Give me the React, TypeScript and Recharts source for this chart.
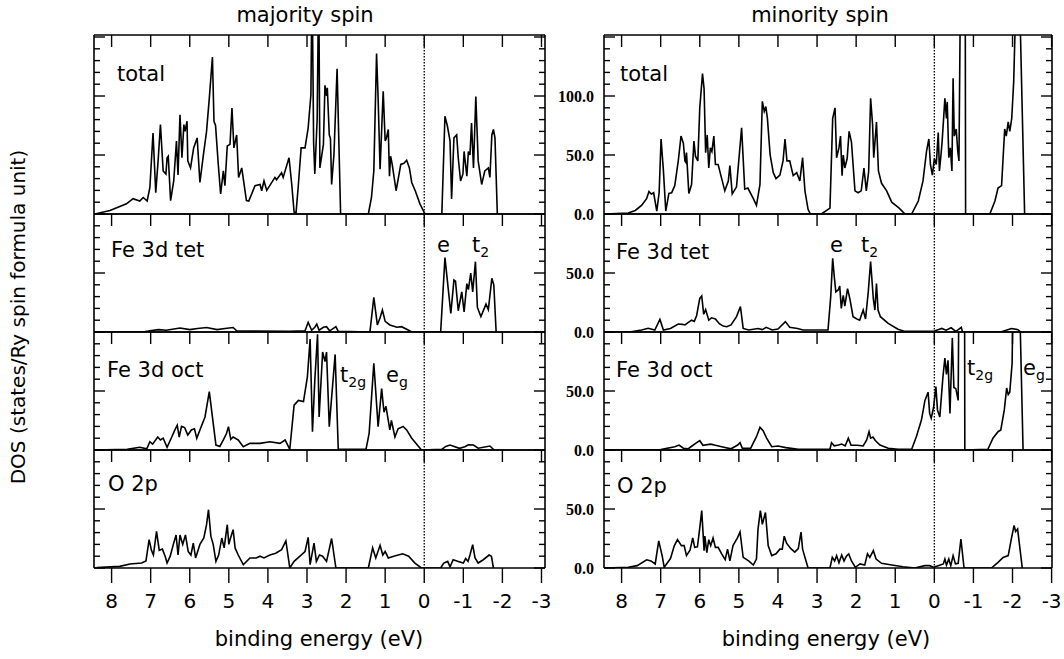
import React from "react";
import { LineChart, Line, XAxis, YAxis, ReferenceLine } from "recharts";

type Pt = [number, number];

// binding energy ticks (eV) and DOS ticks (states/Ry spin formula unit)
const energyTicks = [8, 7, 6, 5, 4, 3, 2, 1, 0, -1, -2, -3];
const dosTicksTotal = [0, 10, 20, 30, 40, 50, 60, 70, 80, 90, 100, 110, 120, 130, 140, 150];
const dosTicksPartial = [0, 10, 20, 30, 40, 50, 60, 70, 80, 90, 100];

const panelNames = ["total", "Fe 3d tet", "Fe 3d oct", "O 2p"];
const columnTitles = ["majority spin", "minority spin"];

// majority spin
const majTotal: Pt[] = [
  [8.43, 0], [8.04, 3], [7.62, 8.6], [7.45, 13], [7.28, 11], [7.19, 14], [7.09, 11], [7.02, 22.5],
  [6.94, 68.7], [6.87, 18], [6.81, 45], [6.75, 75.8], [6.68, 36.5], [6.61, 33.8], [6.58, 47.7],
  [6.55, 49], [6.49, 11.3], [6.41, 28], [6.34, 61.8], [6.3, 33], [6.25, 84], [6.2, 47.7], [6.15, 75.8],
  [6.12, 70], [6.07, 78.6], [6.05, 45], [5.98, 39], [5.9, 56], [5.81, 64.5], [5.74, 26.7], [5.66, 47.7],
  [5.57, 70], [5.5, 98], [5.42, 133], [5.38, 78.6], [5.34, 75], [5.27, 42], [5.21, 17], [5.14, 36.5],
  [5.1, 24], [5.04, 57.6], [4.97, 59], [4.92, 89.7], [4.87, 56], [4.8, 67], [4.75, 31], [4.67, 39],
  [4.55, 11.3], [4.49, 11], [4.33, 24], [4.2, 25], [4.16, 19.7], [4.1, 28], [4.03, 20], [3.82, 31],
  [3.78, 29], [3.65, 35], [3.61, 31], [3.46, 47.7], [3.39, 25], [3.33, 1.5], [3.28, 1], [3.22, 25],
  [3.15, 56], [3.05, 56], [2.97, 73], [2.9, 101], [2.87, 200], [2.83, 60], [2.8, 34], [2.74, 80],
  [2.7, 200], [2.67, 39], [2.58, 59], [2.54, 109], [2.5, 100], [2.48, 107], [2.43, 67], [2.4, 64],
  [2.37, 25], [2.31, 50.6], [2.23, 123], [2.14, 0], [1.43, 0], [1.35, 14], [1.29, 36.5], [1.22, 136],
  [1.18, 98], [1.13, 38], [1.05, 104], [1.0, 62], [0.97, 64], [0.92, 71.6], [0.89, 32], [0.86, 49],
  [0.82, 42], [0.72, 19.7], [0.6, 42], [0.52, 43], [0.45, 45.5], [0.38, 39], [0.32, 26.7], [0.23, 19.7],
  [0.11, 8.6], [-0.02, 0], [-0.45, 0], [-0.53, 82.8], [-0.59, 75], [-0.66, 62], [-0.7, 12.8],
  [-0.76, 64.5], [-0.83, 67], [-0.87, 47.7], [-0.93, 28], [-0.99, 34], [-1.02, 53], [-1.09, 32],
  [-1.13, 53], [-1.17, 50], [-1.21, 77], [-1.26, 39], [-1.32, 99.6], [-1.38, 45], [-1.47, 25],
  [-1.55, 36.5], [-1.64, 39], [-1.68, 31], [-1.73, 67], [-1.77, 71.6], [-1.81, 64.5], [-1.87, 0],
];

const majTet: Pt[] = [
  [8.43, 0], [7.2, 0], [7.02, 1], [6.8, 2], [6.6, 1.5], [6.25, 3.4], [6.0, 2], [5.8, 3], [5.57, 3.8],
  [5.3, 2], [5.1, 3], [4.89, 3.8], [4.8, 1], [4.5, 0.8], [3.44, 0.5], [3.05, 1], [2.97, 8.2],
  [2.88, 1.5], [2.8, 4], [2.75, 6.8], [2.69, 1.5], [2.58, 4], [2.5, 4.5], [2.42, 1], [2.26, 4.5],
  [2.2, 0.5], [1.39, 0], [1.29, 29.4], [1.2, 6], [1.13, 12], [1.07, 18.6], [1.0, 9], [0.88, 6],
  [0.7, 4], [0.58, 4.5], [0.4, 1.5], [0.32, 0], [-0.42, 0], [-0.53, 63], [-0.68, 15.8], [-0.76, 44],
  [-0.8, 43], [-0.87, 18], [-0.96, 34], [-1.02, 17], [-1.09, 41], [-1.13, 36], [-1.19, 50],
  [-1.24, 34], [-1.31, 59.6], [-1.36, 21], [-1.45, 13], [-1.58, 23.6], [-1.64, 19], [-1.73, 45.5],
  [-1.78, 40], [-1.84, 0],
];

const majOct: Pt[] = [
  [8.43, 0], [7.6, 0.5], [7.28, 2.3], [7.1, 1], [7.02, 7], [6.95, 5], [6.82, 11], [6.75, 8.5],
  [6.68, 10], [6.58, 2.3], [6.46, 11], [6.38, 17], [6.32, 21], [6.27, 11], [6.21, 20], [6.13, 19],
  [6.05, 12.7], [5.96, 17], [5.88, 18], [5.82, 9.9], [5.74, 17], [5.61, 28], [5.5, 49.4], [5.42, 28],
  [5.33, 4.2], [5.23, 3], [5.14, 8.5], [5.06, 14], [5.01, 19.8], [4.95, 9], [4.89, 11], [4.76, 8.5],
  [4.63, 2.8], [4.46, 5.6], [4.2, 5.6], [3.95, 7], [3.69, 5.6], [3.56, 8.5], [3.44, 0.5], [3.33, 38],
  [3.22, 42], [3.09, 41], [2.99, 62], [2.92, 94], [2.86, 15.5], [2.8, 59], [2.73, 98], [2.69, 28],
  [2.6, 83], [2.54, 75], [2.5, 83], [2.43, 19.8], [2.28, 81], [2.2, 0.5], [1.49, 0.5], [1.41, 14],
  [1.29, 73.5], [1.18, 19.8], [1.09, 52], [1.03, 32], [0.98, 37], [0.88, 17], [0.84, 25], [0.75, 11],
  [0.67, 18], [0.54, 20], [0.45, 17], [0.32, 10], [0.07, 0], [-0.45, 0.5], [-0.55, 3], [-0.66, 4.2],
  [-0.9, 1.4], [-1.04, 2.8], [-1.13, 4.5], [-1.26, 4.2], [-1.38, 1.5], [-1.68, 3.4], [-1.79, 0],
];

const majO2p: Pt[] = [
  [8.38, 0.3], [7.79, 1.4], [7.53, 3.4], [7.23, 4.2], [7.12, 6], [7.04, 24], [6.98, 15], [6.93, 11],
  [6.85, 31], [6.78, 15], [6.7, 16], [6.63, 10], [6.58, 4.2], [6.5, 10], [6.42, 20], [6.35, 28],
  [6.3, 11], [6.25, 28], [6.18, 20], [6.11, 28], [6.04, 14], [5.97, 11], [5.91, 21], [5.85, 8.5],
  [5.74, 20], [5.64, 25.4], [5.57, 36.7], [5.52, 49.4], [5.46, 27], [5.4, 20], [5.33, 5.6], [5.26, 11],
  [5.18, 25.4], [5.12, 17], [5.04, 36.7], [5.0, 20], [4.96, 25], [4.89, 32.5], [4.84, 17], [4.76, 11],
  [4.63, 2.8], [4.46, 8.5], [4.3, 8.5], [4.2, 10], [4.1, 8.5], [3.95, 11], [3.8, 12.5], [3.65, 15.5],
  [3.54, 23], [3.44, 0], [3.33, 5.6], [3.18, 10], [3.05, 14], [2.97, 26], [2.92, 2.8], [2.82, 21],
  [2.76, 5.6], [2.68, 11], [2.6, 10], [2.5, 5.6], [2.37, 25], [2.26, 0], [1.43, 0], [1.32, 17],
  [1.24, 8.5], [1.13, 19.2], [1.06, 11], [1.0, 14], [0.92, 8.5], [0.78, 10], [0.55, 12], [0.4, 10],
  [0.24, 4.2], [0.07, 0], [-0.42, 0], [-0.5, 4.2], [-0.6, 5.6], [-0.66, 1], [-0.74, 7], [-0.87, 5.6],
  [-1.0, 4.2], [-1.06, 8], [-1.12, 5.6], [-1.17, 11], [-1.24, 19.8], [-1.3, 8.5], [-1.38, 4.2],
  [-1.51, 7], [-1.66, 11], [-1.72, 9.9], [-1.77, 0],
];

// minority spin
const minTotal: Pt[] = [
  [8.43, 0], [7.83, 0.8], [7.65, 3], [7.49, 7.3], [7.36, 13], [7.3, 19], [7.24, 17], [7.18, 18],
  [7.1, 2.5], [7.04, 18], [6.99, 63.6], [6.93, 36.5], [6.87, 2.5], [6.79, 17.4], [6.72, 18],
  [6.64, 24], [6.55, 45], [6.48, 66], [6.42, 60], [6.38, 45], [6.36, 44], [6.34, 52], [6.28, 17.4],
  [6.21, 25], [6.15, 61.8], [6.11, 49], [6.05, 45], [6.0, 90], [5.93, 119], [5.89, 106], [5.85, 52],
  [5.81, 67], [5.77, 39], [5.73, 56], [5.69, 53], [5.64, 66], [5.6, 42], [5.53, 42], [5.49, 36.5],
  [5.36, 19.6], [5.27, 28], [5.23, 41], [5.17, 17], [5.06, 23], [4.93, 73], [4.85, 21], [4.77, 22],
  [4.63, 13], [4.55, 7.3], [4.46, 25], [4.4, 95.5], [4.35, 87], [4.31, 91], [4.27, 81], [4.2, 50],
  [4.12, 35], [4.05, 30], [3.95, 33], [3.87, 45], [3.82, 63.6], [3.77, 45], [3.7, 45], [3.61, 32.5],
  [3.52, 35], [3.44, 28], [3.37, 47.7], [3.31, 19.6], [3.23, 4], [3.17, 0], [2.89, 0], [2.67, 5],
  [2.6, 81], [2.54, 90], [2.5, 47.7], [2.44, 56], [2.4, 66], [2.36, 32.5], [2.33, 50], [2.29, 39],
  [2.23, 47], [2.18, 70], [2.12, 61], [2.03, 19.6], [1.95, 18], [1.87, 19.6], [1.8, 39], [1.74, 19.6],
  [1.68, 36], [1.63, 98], [1.58, 76], [1.55, 47.7], [1.48, 78], [1.43, 36.5], [1.35, 26], [1.22, 19.6],
  [1.09, 10], [0.9, 5], [0.75, 0], [0.58, 0], [0.41, 11], [0.29, 28], [0.2, 53], [0.14, 63.6],
  [0.1, 42], [0.05, 33], [0.0, 47], [-0.05, 42], [-0.1, 69], [-0.13, 36.5], [-0.17, 50], [-0.2, 61.8],
  [-0.27, 98], [-0.31, 81], [-0.33, 95], [-0.37, 47.7], [-0.41, 56], [-0.45, 36.5], [-0.48, 115],
  [-0.51, 66], [-0.56, 72], [-0.6, 53], [-0.63, 45], [-0.67, 200], [-0.79, 200], [-0.8, 0],
  [-1.42, 0], [-1.55, 11], [-1.63, 22], [-1.72, 24], [-1.8, 72], [-1.84, 66], [-1.89, 78],
  [-1.93, 70], [-1.98, 81], [-2.03, 112], [-2.1, 200], [-2.17, 200], [-2.31, 0],
];

const minTet: Pt[] = [
  [8.42, 0], [7.8, 0], [7.49, 1.7], [7.32, 3.1], [7.15, 1.7], [7.02, 10.7], [6.93, 1.7], [6.75, 3],
  [6.55, 6.8], [6.45, 6.5], [6.38, 6], [6.3, 8], [6.21, 10], [6.14, 9], [6.08, 14], [6.0, 28.5],
  [5.95, 30.5], [5.9, 15], [5.85, 19], [5.77, 10], [5.7, 12], [5.6, 11], [5.5, 7], [5.4, 5],
  [5.31, 4.5], [5.2, 6], [5.06, 13], [4.96, 21.5], [4.89, 3], [4.75, 1.7], [4.51, 3], [4.4, 2],
  [4.3, 4], [4.15, 1.7], [4.0, 2.5], [3.81, 8.8], [3.7, 4], [3.5, 3], [3.36, 1.7], [2.72, 1.7],
  [2.65, 30], [2.6, 62.4], [2.56, 47], [2.52, 34], [2.46, 35.6], [2.42, 39], [2.38, 20], [2.33, 31],
  [2.29, 22], [2.22, 36.7], [2.16, 28], [2.08, 13], [1.98, 11], [1.91, 10], [1.82, 18.6], [1.76, 11],
  [1.69, 34], [1.63, 59.6], [1.56, 28], [1.52, 18.6], [1.48, 41], [1.44, 18.6], [1.38, 13],
  [1.18, 7.3], [0.93, 2.3], [0.75, 0.5], [0.03, 0.5], [-0.19, 3], [-0.3, 1.5], [-0.43, 3.6],
  [-0.55, 0.5], [-0.69, 4], [-0.72, 0], [-1.7, 0], [-1.97, 3], [-2.14, 2], [-2.21, 0],
];

const minOct: Pt[] = [
  [8.42, 0], [7.0, 0.3], [6.64, 2.8], [6.53, 4.2], [6.42, 1.5], [6.3, 1], [6.2, 3.4], [6.08, 6.2],
  [6.0, 7.9], [5.92, 4], [5.72, 5], [5.6, 4], [5.44, 2.8], [5.2, 1], [5.03, 4.2], [4.97, 6.2],
  [4.91, 1.4], [4.7, 1.4], [4.55, 11.3], [4.46, 19.2], [4.38, 16.4], [4.29, 10], [4.16, 2.8],
  [4.0, 3.4], [3.8, 2], [3.48, 0.6], [2.67, 0.6], [2.63, 6.2], [2.56, 3.5], [2.45, 4.2], [2.37, 5],
  [2.28, 3.5], [2.2, 10], [2.13, 4], [1.97, 4], [1.82, 3.4], [1.73, 8.5], [1.67, 15.5], [1.63, 10],
  [1.57, 11], [1.51, 8], [1.39, 4.2], [1.18, 1.5], [0.92, 0.6], [0.58, 0.6], [0.46, 11.3],
  [0.33, 25.4], [0.24, 42], [0.16, 49], [0.12, 31], [0.08, 27], [0.02, 36], [-0.04, 53.7],
  [-0.08, 34], [-0.14, 28], [-0.22, 62], [-0.27, 78], [-0.31, 64], [-0.35, 76], [-0.4, 31],
  [-0.46, 95], [-0.5, 53], [-0.55, 52], [-0.61, 42], [-0.64, 200], [-0.77, 200], [-0.78, 0],
  [-1.37, 0.6], [-1.5, 10], [-1.63, 15.5], [-1.7, 17], [-1.79, 34], [-1.85, 52.5], [-1.89, 47],
  [-1.93, 49], [-1.99, 73.5], [-2.04, 200], [-2.13, 200], [-2.27, 0],
];

const minO2p: Pt[] = [
  [8.43, 0], [7.83, 0.6], [7.6, 2], [7.36, 7], [7.25, 6], [7.14, 3.4], [7.05, 23], [6.96, 10],
  [6.91, 0.6], [6.85, 3.4], [6.75, 8], [6.65, 19], [6.57, 24], [6.47, 19], [6.4, 19], [6.34, 10.5],
  [6.25, 15], [6.18, 25.4], [6.13, 17.5], [6.06, 18], [6.0, 34], [5.95, 48.6], [5.89, 14.7],
  [5.87, 27], [5.82, 13], [5.77, 24], [5.72, 19], [5.66, 25.4], [5.6, 17.5], [5.53, 17.5],
  [5.44, 11.9], [5.35, 7], [5.29, 16], [5.23, 6], [5.15, 19], [5.03, 26], [4.97, 30.5], [4.89, 9],
  [4.75, 6], [4.63, 2.5], [4.55, 7.6], [4.51, 33], [4.45, 48.6], [4.42, 42], [4.4, 37], [4.32, 47],
  [4.25, 19], [4.16, 10.5], [4.05, 12], [3.95, 16], [3.89, 16], [3.84, 27], [3.78, 21], [3.67, 16.4],
  [3.57, 13.5], [3.48, 16.4], [3.41, 30.5], [3.37, 16], [3.23, 0], [2.67, 0], [2.61, 9], [2.55, 6],
  [2.5, 10.5], [2.44, 4.5], [2.37, 11], [2.31, 6], [2.25, 10], [2.19, 12], [2.12, 6], [2.02, 0.6],
  [1.9, 3.5], [1.78, 2.5], [1.71, 12], [1.65, 9], [1.56, 14.7], [1.49, 7.6], [1.35, 4], [1.09, 2.5],
  [0.8, 1], [0.5, 0], [0.24, 2], [0.12, 2], [0.02, 0.6], [-0.1, 2], [-0.23, 3.4], [-0.27, 7.6],
  [-0.31, 2.5], [-0.37, 7.6], [-0.42, 2], [-0.48, 10.5], [-0.54, 3.5], [-0.61, 4], [-0.68, 24.6],
  [-0.76, 0], [-1.46, 0], [-1.63, 4.8], [-1.76, 9], [-1.89, 10.5], [-1.97, 24.6], [-2.04, 36],
  [-2.08, 31], [-2.13, 33], [-2.25, 0],
];

const majority = [majTotal, majTet, majOct, majO2p];
const minority = [minTotal, minTet, minOct, minO2p];

// frame geometry
const columns = [
  { left: 94, width: 451, eMin: -3.09, eMax: 8.45, series: majority, labels: false },
  { left: 604, width: 448, eMin: -3.01, eMax: 8.45, series: minority, labels: true },
];
const rows = [
  { top: 35, height: 179, dosMax: 151.7, ticks: dosTicksTotal },
  { top: 214, height: 118, dosMax: 100, ticks: dosTicksPartial },
  { top: 332, height: 118, dosMax: 100, ticks: dosTicksPartial },
  { top: 450, height: 118, dosMax: 100, ticks: dosTicksPartial },
];

const FONT = "DejaVu Sans, Verdana, sans-serif";
const ML = 60;
const MR = 12;
const MT = 12;
const AX = 1; // axes need a non-zero size to be drawn

const TopTick = (p: any) => (
  <line x1={p.x} y1={p.y} x2={p.x} y2={p.y + 12} stroke="#000" strokeWidth={1.4} />
);

const SideTick = (p: any) => {
  const v = p.payload.value;
  const major = v % 50 === 0;
  const len = major ? 11 : 6;
  const dir = p.side === "left" ? 1 : -1;
  return (
    <g>
      <line x1={p.x} y1={p.y} x2={p.x + dir * len} y2={p.y} stroke="#000" strokeWidth={1.4} />
      {p.showLabel && major && v < p.dosMax - 10 && (
        <text
          x={p.x - 10}
          y={p.y}
          textAnchor="end"
          dominantBaseline="central"
          fontFamily="Liberation Serif, Times New Roman, serif"
          fontWeight="bold"
          fontSize={16}
          fill="#000"
        >
          {v.toFixed(1)}
        </text>
      )}
    </g>
  );
};

interface PanelProps {
  points: Pt[];
  left: number;
  top: number;
  width: number;
  height: number;
  eMin: number;
  eMax: number;
  dosMax: number;
  ticks: number[];
  showLabel: boolean;
  bottom: boolean;
}

const Panel = ({ points, left, top, width, height, eMin, eMax, dosMax, ticks, showLabel, bottom }: PanelProps) => {
  const data = points.map(([e, v]) => ({ e, v }));
  const mb = bottom ? 50 : 14;
  return (
    <div style={{ position: "absolute", left: left - ML, top: top - MT }}>
      <LineChart
        width={width + ML + MR}
        height={height + MT + mb}
        data={data}
        margin={{ top: MT - AX, right: MR - AX, bottom: mb - AX, left: ML - AX }}
      >
        <XAxis
          xAxisId="t"
          orientation="top"
          type="number"
          dataKey="e"
          domain={[eMin, eMax]}
          reversed
          allowDataOverflow
          ticks={energyTicks}
          interval={0}
          height={AX}
          tickSize={0}
          tickMargin={0}
          tickLine={false}
          axisLine={{ stroke: "#000", strokeWidth: 1.6 }}
          tick={(p: any) => <TopTick {...p} />}
        />
        <XAxis
          xAxisId="b"
          orientation="bottom"
          type="number"
          dataKey="e"
          domain={[eMin, eMax]}
          reversed
          allowDataOverflow
          ticks={energyTicks}
          interval={0}
          height={AX}
          tickSize={15}
          tickMargin={11}
          axisLine={{ stroke: "#000", strokeWidth: 1.6 }}
          tickLine={bottom ? { stroke: "#000", strokeWidth: 1.4 } : false}
          tick={bottom ? { fill: "#000", fontSize: 20, fontFamily: FONT } : false}
        />
        <YAxis
          yAxisId="l"
          orientation="left"
          type="number"
          domain={[0, dosMax]}
          allowDataOverflow
          ticks={ticks}
          interval={0}
          width={AX}
          tickSize={0}
          tickMargin={0}
          tickLine={false}
          axisLine={{ stroke: "#000", strokeWidth: 1.6 }}
          tick={(p: any) => <SideTick {...p} side="left" showLabel={showLabel} dosMax={dosMax} />}
        />
        <YAxis
          yAxisId="r"
          orientation="right"
          type="number"
          domain={[0, dosMax]}
          allowDataOverflow
          ticks={ticks}
          interval={0}
          width={AX}
          tickSize={0}
          tickMargin={0}
          tickLine={false}
          axisLine={{ stroke: "#000", strokeWidth: 1.6 }}
          tick={(p: any) => <SideTick {...p} side="right" showLabel={false} dosMax={dosMax} />}
        />
        <ReferenceLine xAxisId="t" yAxisId="l" x={0} stroke="#000" strokeWidth={1.3} strokeDasharray="1.5 1.5" />
        <Line
          xAxisId="t"
          yAxisId="l"
          dataKey="v"
          type="linear"
          dot={false}
          activeDot={false}
          stroke="#000"
          strokeWidth={1.6}
          isAnimationActive={false}
        />
      </LineChart>
    </div>
  );
};

const Sub = ({ children }: { children: React.ReactNode }) => (
  <tspan fontSize={14} dy={5}>
    {children}
  </tspan>
);

export default function App() {
  return (
    <div
      style={{
        position: "absolute",
        left: 0,
        top: 0,
        width: 1064,
        height: 659,
        background: "#fff",
        fontFamily: FONT,
        overflow: "hidden",
      }}
    >
      {columns.map((col, ci) =>
        rows.map((row, ri) => (
          <Panel
            key={`${ci}-${ri}`}
            points={col.series[ri]}
            left={col.left}
            top={row.top}
            width={col.width}
            height={row.height}
            eMin={col.eMin}
            eMax={col.eMax}
            dosMax={row.dosMax}
            ticks={row.ticks}
            showLabel={col.labels}
            bottom={ri === rows.length - 1}
          />
        ))
      )}
      <svg
        width={1064}
        height={659}
        style={{ position: "absolute", left: 0, top: 0, pointerEvents: "none" }}
        fontFamily={FONT}
        fill="#000"
      >
        <text x={305} y={22} fontSize={21} textAnchor="middle">{columnTitles[0]}</text>
        <text x={820} y={22} fontSize={21} textAnchor="middle">{columnTitles[1]}</text>
        <text x={319} y={646} fontSize={21} textAnchor="middle">binding energy (eV)</text>
        <text x={826} y={646} fontSize={21} textAnchor="middle">binding energy (eV)</text>
        <text
          x={18}
          y={317}
          fontSize={20}
          textAnchor="middle"
          dominantBaseline="central"
          transform="rotate(-90 18 317)"
        >
          DOS (states/Ry spin formula unit)
        </text>

        <text x={117} y={81} fontSize={21}>{panelNames[0]}</text>
        <text x={111} y={257} fontSize={21}>{panelNames[1]}</text>
        <text x={107} y={377} fontSize={21}>{panelNames[2]}</text>
        <text x={108} y={491} fontSize={21}>{panelNames[3]}</text>
        <text x={620} y={81} fontSize={21}>{panelNames[0]}</text>
        <text x={616} y={259} fontSize={21}>{panelNames[1]}</text>
        <text x={616} y={377} fontSize={21}>{panelNames[2]}</text>
        <text x={617} y={493} fontSize={21}>{panelNames[3]}</text>

        <text x={437} y={252} fontSize={21}>e</text>
        <text x={472} y={252} fontSize={21}>t<Sub>2</Sub></text>
        <text x={830} y={252} fontSize={21}>e</text>
        <text x={861} y={252} fontSize={21}>t<Sub>2</Sub></text>
        <text x={340} y={382} fontSize={21}>t<Sub>2g</Sub></text>
        <text x={386} y={382} fontSize={21}>e<Sub>g</Sub></text>
        <text x={967} y={375} fontSize={21}>t<Sub>2g</Sub></text>
        <text x={1023} y={375} fontSize={21}>e<Sub>g</Sub></text>
      </svg>
    </div>
  );
}
